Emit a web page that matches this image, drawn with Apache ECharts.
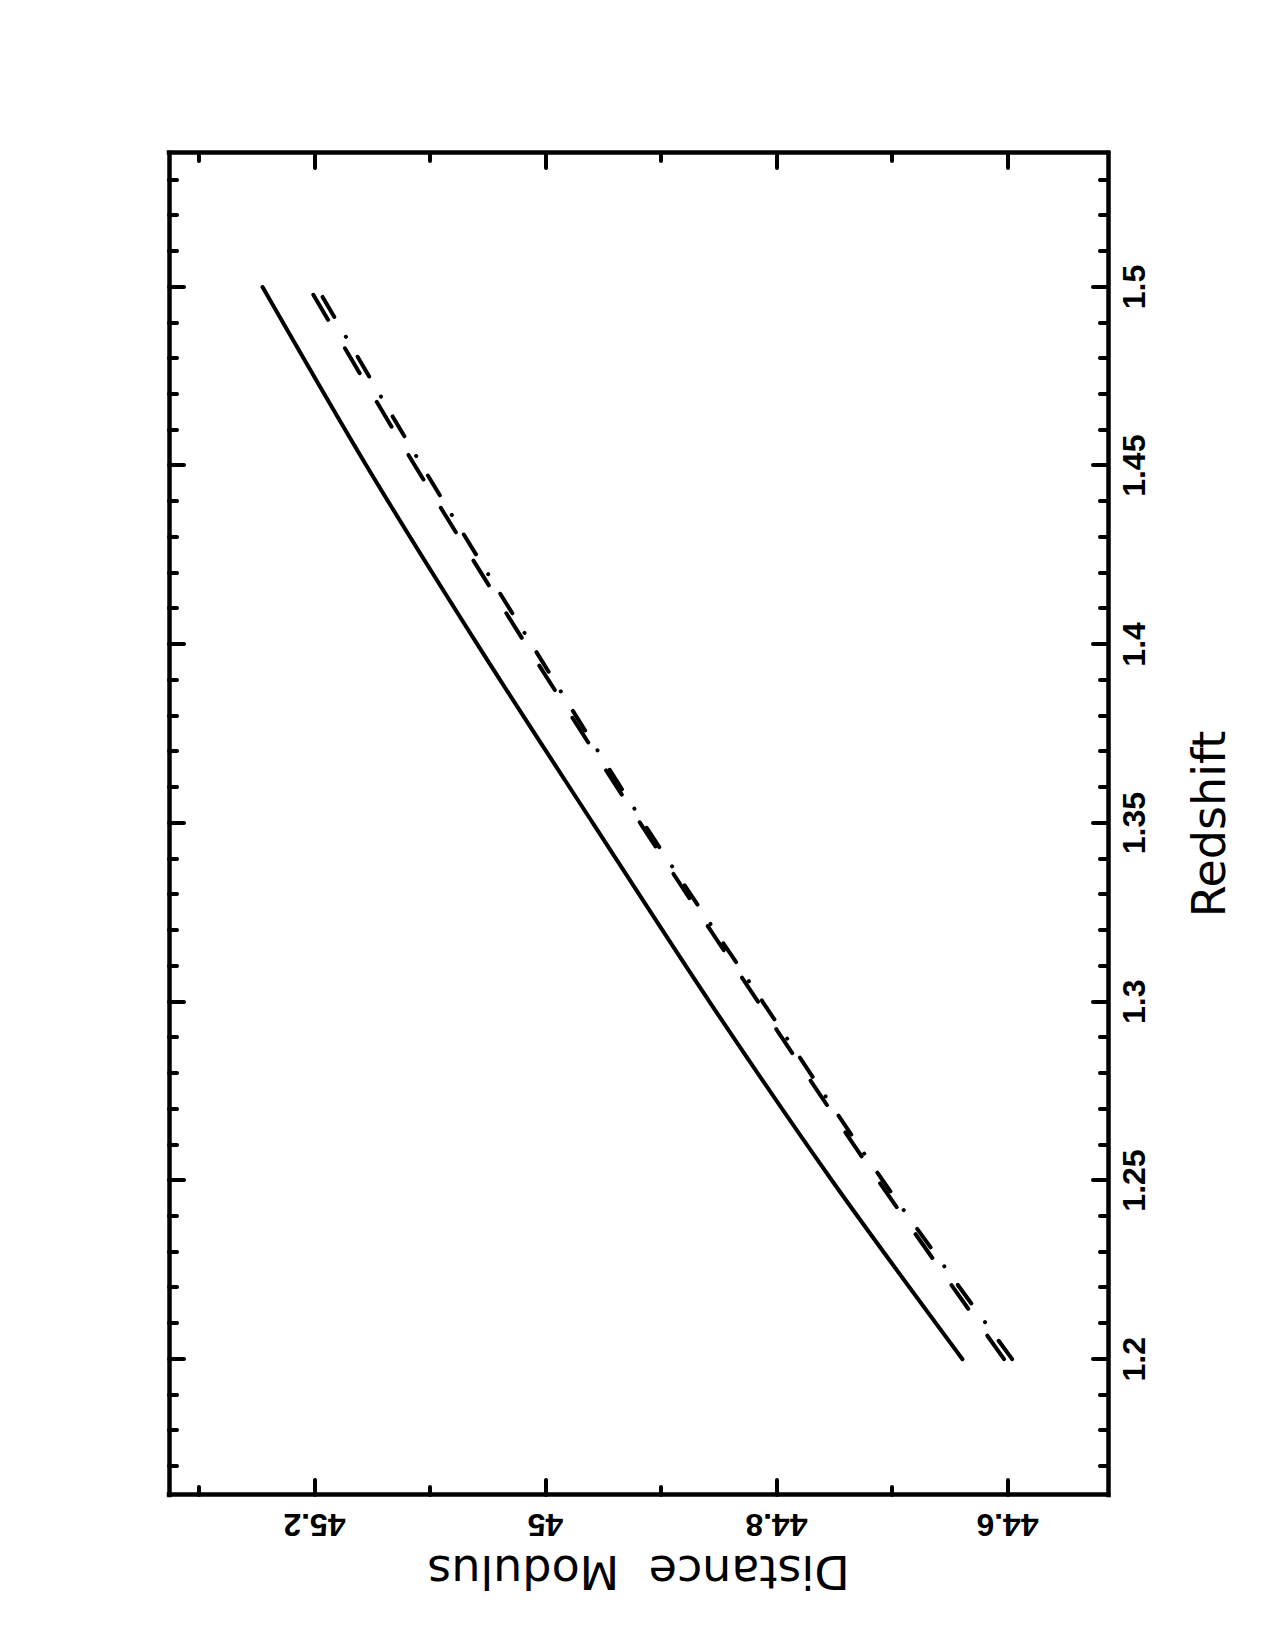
<!DOCTYPE html>
<html>
<head>
<meta charset="utf-8">
<script src="https://cdn.jsdelivr.net/npm/echarts@6/dist/echarts.min.js"></script>
<style>
  html, body { margin: 0; padding: 0; background: #fff; overflow: hidden; width: 1275px; height: 1650px; }
  /* the plot is drawn upright, then turned a quarter turn counter-clockwise like the original page */
  #chart { position: absolute; left: 0; top: 0; width: 1650px; height: 1275px;
           transform-origin: 0 0; transform: translateY(1650px) rotate(-90deg); }
</style>
</head>
<body>
<div id="chart"></div>
<script>
// redshift samples and distance modulus
const redshift   = [1.2, 1.25, 1.3, 1.35, 1.4, 1.45, 1.5];
const muSolid    = [44.639, 44.752, 44.858, 44.959, 45.059, 45.155, 45.245];
const muDashed   = [44.603, 44.712, 44.816, 44.918, 45.017, 45.113, 45.205];
const muDashDot  = [44.596, 44.708, 44.812, 44.915, 45.012, 45.107, 45.198];

// ticks
const zMajor  = [1.2, 1.25, 1.3, 1.35, 1.4, 1.45, 1.5];
const zMinor  = [1.17, 1.18, 1.19, 1.21, 1.22, 1.23, 1.24, 1.26, 1.27, 1.28, 1.29,
                 1.31, 1.32, 1.33, 1.34, 1.36, 1.37, 1.38, 1.39, 1.41, 1.42, 1.43, 1.44,
                 1.46, 1.47, 1.48, 1.49, 1.51, 1.52, 1.53];
const muMajor = [44.6, 44.8, 45, 45.2];
const muMinor = [44.7, 44.9, 45.1, 45.3];

const zMin = 1.162, zMax = 1.5375;
const muMin = 44.513, muMax = 45.326;

const pairs = ys => redshift.map((z, i) => [z, ys[i]]);
const fmt = v => String(+v.toFixed(2));

const frame = { show: true, lineStyle: { color: '#000', width: 4.5, cap: 'square' } };
const tickFont = { fontFamily: 'Liberation Sans', fontWeight: 'bold', fontSize: 32, color: '#000' };

function xAx(grid, pos, vals, len, opts) {
  return Object.assign({
    type: 'value', gridIndex: grid, position: pos, min: zMin, max: zMax,
    axisLine: grid === 0 ? frame : { show: false },
    axisTick: { show: true, inside: true, length: len, customValues: vals,
                lineStyle: { color: '#000', width: 4, cap: 'round' } },
    axisLabel: { show: false },
    splitLine: { show: false }
  }, opts || {});
}
function yAx(grid, pos, vals, len, opts) {
  return Object.assign({
    type: 'value', gridIndex: grid, position: pos, min: muMin, max: muMax,
    axisLine: grid === 0 ? frame : { show: false },
    axisTick: { show: true, inside: true, length: len, customValues: vals,
                lineStyle: { color: '#000', width: 4, cap: 'round' } },
    axisLabel: { show: false },
    splitLine: { show: false }
  }, opts || {});
}

const box = { left: 155, right: 153, top: 169, bottom: 167 };

const option = {
  animation: false,
  backgroundColor: '#fff',
  grid: [Object.assign({}, box), Object.assign({}, box)],
  xAxis: [
    xAx(0, 'bottom', zMajor, 15, {
      axisLabel: Object.assign({ show: true, customValues: zMajor, margin: 10, formatter: fmt }, tickFont),
      name: 'Redshift', nameLocation: 'middle', nameGap: 78,
      nameTextStyle: { fontFamily: 'DejaVu Sans', fontSize: 46, color: '#000' }
    }),
    xAx(0, 'top', zMajor, 15),
    xAx(1, 'bottom', zMinor, 8),
    xAx(1, 'top', zMinor, 8)
  ],
  yAxis: [
    yAx(0, 'left', muMajor, 15, {
      axisLabel: Object.assign({ show: true, customValues: muMajor, margin: 14, rotate: 90, formatter: fmt }, tickFont),
      name: 'Distance  Modulus', nameLocation: 'middle', nameGap: 48, nameRotate: 90,
      nameTextStyle: { fontFamily: 'DejaVu Sans', fontSize: 46, color: '#000' }
    }),
    yAx(0, 'right', muMajor, 15),
    yAx(1, 'left', muMinor, 8),
    yAx(1, 'right', muMinor, 8)
  ],
  series: [
    {
      type: 'line', xAxisIndex: 0, yAxisIndex: 0, data: pairs(muSolid),
      smooth: 0.3, symbol: 'none',
      lineStyle: { color: '#000', width: 4, cap: 'round' }
    },
    {
      type: 'line', xAxisIndex: 0, yAxisIndex: 0, data: pairs(muDashed),
      smooth: 0.3, symbol: 'none',
      lineStyle: { color: '#000', width: 4, cap: 'round', type: [29, 33] }
    },
    {
      type: 'line', xAxisIndex: 0, yAxisIndex: 0, data: pairs(muDashDot),
      smooth: 0.3, symbol: 'none',
      lineStyle: { color: '#000', width: 4, cap: 'round', type: [23, 23, 0.1, 23] }
    }
  ]
};

const chart = echarts.init(document.getElementById('chart'), null, { renderer: 'svg', width: 1650, height: 1275 });
chart.setOption(option);
</script>
</body>
</html>
